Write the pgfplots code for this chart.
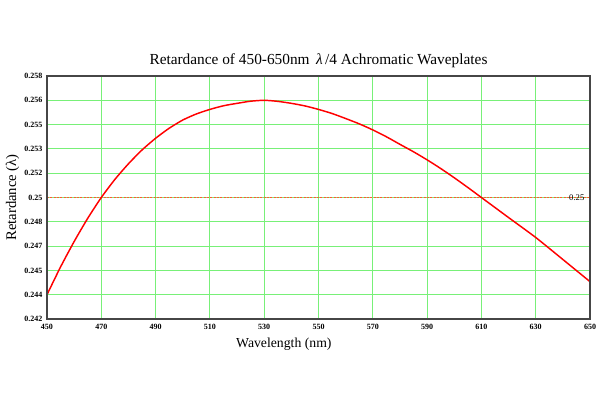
\documentclass[border=0pt]{standalone}
\usepackage{fontspec}
\setmainfont{Liberation Serif}
\usepackage{pgfplots}
\pgfplotsset{compat=1.18}
\definecolor{gridgreen}{RGB}{120,240,120}
\definecolor{frame}{RGB}{70,70,70}
\definecolor{dotred}{RGB}{255,90,50}
\begin{document}
\begin{tikzpicture}
\begin{axis}[
  scale only axis,
  width=407.25pt, height=182.25pt,
  xmin=450, xmax=650, ymin=0.242, ymax=0.258,
  xtick={450,470,...,650},
  ytick={0.242,0.2436,0.2452,0.2468,0.2484,0.25,0.2516,0.2532,0.2548,0.2564,0.258},
  yticklabels={0.242,0.244,0.245,0.247,0.248,0.25,0.252,0.253,0.255,0.256,0.258},
  /pgf/number format/assume math mode=true,
  xticklabel style={font=\fontsize{6}{7}\selectfont\bfseries},
  yticklabel style={font=\fontsize{6}{7}\selectfont\bfseries},
  major tick length=0pt,
  grid=major,
  major grid style={gridgreen, line width=0.8pt},
  axis line style={frame, line width=1.4pt},
  title={Retardance of 450-650nm\, \textit{λ}\,/4 Achromatic Waveplates},
  title style={font=\fontsize{11.5}{13}\selectfont, yshift=-3pt},
  xlabel={Wavelength (nm)},
  ylabel={Retardance (λ)},
  label style={font=\fontsize{11}{13}\selectfont},
  xlabel style={xshift=-26pt, yshift=0pt, font=\fontsize{10.3}{12}\selectfont},
  ylabel style={yshift=-3pt},
  clip=true,
]
\addplot[draw=gridgreen, line width=0.9pt] coordinates {(450,0.25) (650,0.25)};
\addplot[draw=dotred, dash pattern=on 1.5pt off 1pt, line width=0.9pt] coordinates {(450,0.25) (650,0.25)};
\addplot[red, line width=1.1pt, smooth, tension=0.4] coordinates {
(450,0.2436) (455,0.24543) (460,0.2471) (465,0.24863) (470,0.2500) (475,0.25119)
(480,0.25222) (485,0.25313) (490,0.2539) (495,0.25456)
(500,0.2551) (505,0.2555) (510,0.2558) (515,0.25604) (520,0.2562) (525,0.25634)
(530,0.2564) (535,0.25633) (540,0.2562) (545,0.25603)
(550,0.2558) (555,0.25553) (560,0.2552) (565,0.25485) (570,0.25445) (575,0.2540)
(580,0.2535) (585,0.25301) (590,0.25248) (595,0.25191)
(600,0.2513) (605,0.25066) (610,0.2500) (615,0.24934) (620,0.24868) (625,0.24803)
(630,0.24737) (635,0.24665) (640,0.24592) (645,0.24519) (650,0.24446)};
\node[anchor=east, font=\fontsize{6.5}{7}\selectfont, inner sep=1pt, xshift=-3pt] at (axis cs:650,0.25) {0.25};
\end{axis}
\draw[frame, line width=1.5pt] (current axis.south west) rectangle (current axis.north east);
\pgfresetboundingbox
\path (current axis.south west) ++(-35.25pt,-60.75pt) coordinate (bl);
\path (current axis.north east) ++(7.5pt,57pt) coordinate (tr);
\path[use as bounding box] (bl) rectangle (tr);
\end{tikzpicture}
\end{document}
